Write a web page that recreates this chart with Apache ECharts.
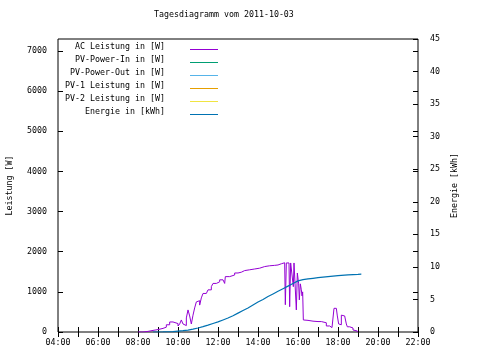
<!DOCTYPE html>
<html><head><meta charset="utf-8">
<script src="https://cdn.jsdelivr.net/npm/echarts@6/dist/echarts.min.js"></script>
<style>html,body{margin:0;padding:0;background:#fff}#c{width:480px;height:360px}</style>
</head><body><div id="c"></div>
<script>
const titleText = "Tagesdiagramm vom 2011-10-03";
const seriesNames = ["AC Leistung in [W]", "PV-Power-In in [W]", "PV-Power-Out in [W]", "PV-1 Leistung in [W]", "PV-2 Leistung in [W]", "Energie in [kWh]"];
const seriesColors = ["#9400d3", "#009e73", "#56b4e9", "#e69f00", "#f0e442", "#0072b2"];
const xTickLabels = ["04:00","06:00","08:00","10:00","12:00","14:00","16:00","18:00","20:00","22:00"];
const leftTicks = [0,1000,2000,3000,4000,5000,6000,7000];
const rightTicks = [0,5,10,15,20,25,30,35,40,45];

const acTimes = ["08:00","08:15","08:30","08:45","09:00","09:15","09:25","09:35","09:45","10:00","10:05","10:10","10:15","10:20","10:25","10:30","10:35","10:40","10:45","10:50","10:55","11:00","11:05","11:10","11:15","11:25","11:30","11:40","11:45","11:55","12:05","12:15","12:20","12:22","12:35","12:50","13:00","13:10","13:20","13:35","13:50","14:05","14:20","14:35","14:50","15:00","15:10","15:20","15:22","15:25","15:33","15:35","15:38","15:44","15:46","15:48","15:53","15:55","15:58","16:00","16:02","16:04","16:07","16:10","16:12","16:14","16:16","16:20","16:30","16:45","17:00","17:10","17:15","17:25","17:35","17:42","17:48","17:55","17:58","18:02","18:06","18:10","18:16","18:20","18:25","18:28","18:35","18:45","18:50","18:58"];
const acValues = [0,15,40,60,90,120,180,250,210,150,200,300,200,160,350,550,400,200,420,600,750,780,670,850,960,1000,1050,1130,1210,1250,1300,1330,1210,1380,1420,1470,1490,1530,1550,1570,1590,1630,1650,1660,1670,1700,1725,1720,680,1720,1720,630,1720,1720,1130,1720,1720,550,1470,1450,1200,800,1200,1050,900,1000,300,290,270,260,260,265,230,150,110,100,590,560,400,200,180,420,400,380,200,130,100,50,25,0];

const enTimes = ["08:45","09:15","09:45","10:15","10:30","10:45","11:00","11:15","11:30","11:45","12:00","12:15","12:30","12:45","13:00","13:15","13:30","13:45","14:00","14:15","14:30","14:45","15:00","15:15","15:30","15:45","16:00","16:15","16:30","16:45","17:00","17:30","18:00","18:30","19:00","19:10"];
const enValues = [0,0.02,0.05,0.2,0.3,0.45,0.62,0.82,1.05,1.3,1.55,1.85,2.15,2.5,2.9,3.3,3.7,4.15,4.6,5.0,5.45,5.85,6.25,6.65,7.05,7.45,7.85,8.05,8.15,8.25,8.35,8.5,8.65,8.78,8.85,8.88];

const FONT = "DejaVu Sans Mono";
const FS = 8.3;
function hrs(t){const p=t.split(":");return (+p[0])+(+p[1])/60;}
function pairs(ts, vs){return ts.map((t,i)=>[hrs(t), vs[i]]);}

const chart = echarts.init(document.getElementById('c'), null, {renderer:'canvas'});
const txt = {color:'#000', fontFamily:FONT, fontSize:FS};

const legendGraphics = [];
seriesNames.forEach((n,i)=>{
  const y = 47 + i*13;
  legendGraphics.push({type:'text', x:165, y:y, style:{text:n, textAlign:'right', textVerticalAlign:'middle', fill:'#000', font:FS+'px "'+FONT+'"'}});
  legendGraphics.push({type:'line', shape:{x1:190, y1:y+2.5, x2:218, y2:y+2.5}, style:{stroke:seriesColors[i], lineWidth:1}});
});

const series = seriesNames.map((n,i)=>{
  let data = [];
  if (i===0) data = pairs(acTimes, acValues);
  if (i===5) data = pairs(enTimes, enValues);
  return {name:n, type:'line', data:data, yAxisIndex: i===5?1:0, step: i===0?'end':false, showSymbol:false, symbol:'none',
    lineStyle:{color:seriesColors[i], width: i===5?1.2:1}, itemStyle:{color:seriesColors[i]}, animation:false, z: i===5?3:2};
});

chart.setOption({
  animation:false,
  backgroundColor:'#fff',
  title:{text:titleText, left:154, top:11, padding:0, textStyle:{color:'#000', fontFamily:FONT, fontSize:FS, fontWeight:'normal'}},
  grid:{left:58, right:62, top:39, bottom:28, containLabel:false, outerBoundsMode:'none', show:true, borderColor:'#000', borderWidth:1, backgroundColor:'transparent'},
  xAxis:[
    {type:'value', min:4, max:22, interval:1, axisLine:{show:false}, splitLine:{show:false},
     axisTick:{inside:true, length:5, lineStyle:{color:'#000'}},
     axisLabel:Object.assign({margin:7, formatter:v=>{const k=(v-4)/2; return Number.isInteger(k)?xTickLabels[k]:'';}}, txt)},
    {type:'value', position:'top', min:4, max:22, interval:1, axisLine:{show:false}, splitLine:{show:false},
     axisTick:{inside:true, length:5, lineStyle:{color:'#000'}}, axisLabel:{show:false}}
  ],
  yAxis:[
    {type:'value', position:'left', min:0, max:7300, interval:1000, name:'Leistung [W]', nameLocation:'middle', nameRotate:90, nameGap:44,
     nameTextStyle:txt, axisLine:{show:false}, splitLine:{show:false},
     axisTick:{inside:true, length:5, lineStyle:{color:'#000'}},
     axisLabel:Object.assign({margin:11, showMaxLabel:false, formatter:v=>leftTicks.indexOf(v)>=0?String(v):''}, txt)},
    {type:'value', position:'right', min:0, max:45, interval:5, name:'Energie [kWh]', nameLocation:'middle', nameRotate:90, nameGap:32,
     nameTextStyle:txt, axisLine:{show:false}, splitLine:{show:false},
     axisTick:{inside:true, length:5, lineStyle:{color:'#000'}},
     axisLabel:Object.assign({margin:12, formatter:v=>rightTicks.indexOf(v)>=0?String(v):''}, txt)},
    {type:'value', position:'right', min:0, max:7300, interval:1000, axisLine:{show:false}, splitLine:{show:false},
     axisTick:{inside:true, length:5, lineStyle:{color:'#000'}}, axisLabel:{show:false}}
  ],
  graphic: legendGraphics,
  series: series
});
</script></body></html>
